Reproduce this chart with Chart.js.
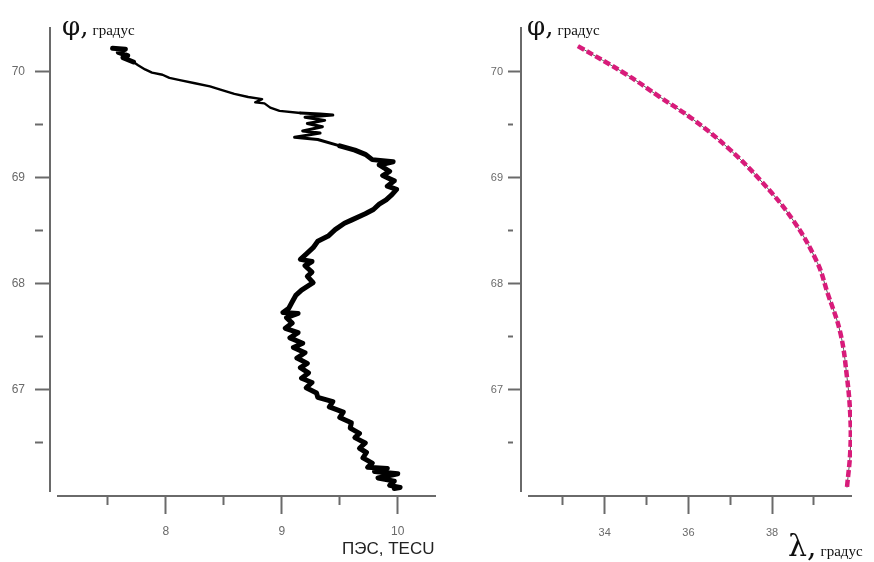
<!DOCTYPE html>
<html>
<head>
<meta charset="utf-8">
<script src="https://cdn.jsdelivr.net/npm/chart.js@4.4.1/dist/chart.umd.min.js"></script>
<style>
  html, body { margin: 0; padding: 0; background: #fff; }
  #wrap { position: relative; width: 874px; height: 562px; overflow: hidden; }
  canvas { position: absolute; top: 0; }
  #left { left: 0; }
  #right { left: 440px; }
  .lbl { position: absolute; white-space: nowrap; color: #111; }
  .big { font-family: "DejaVu Serif", "Liberation Serif", serif; }
  .unit { font-family: "Liberation Serif", serif; font-size: 15px; }
</style>
</head>
<body>
<div id="wrap">
  <canvas id="left" width="440" height="562"></canvas>
  <canvas id="right" width="434" height="562"></canvas>
  <div class="lbl" style="left:62px;top:11px;"><span class="big" style="font-size:26px;">φ,</span> <span class="unit">градус</span></div>
  <div class="lbl" style="left:527px;top:11px;"><span class="big" style="font-size:26px;">φ,</span> <span class="unit">градус</span></div>
  <div class="lbl" style="left:342px;top:539px;font-family:'Liberation Sans',Arial,sans-serif;font-size:17px;color:#222;">ПЭС, TECU</div>
  <div class="lbl" style="left:788px;top:528px;"><span class="big" style="font-size:30px;">λ,</span> <span class="unit">градус</span></div>
</div>
<script>
// left panel: ПЭС vs latitude (zigzag follows the noisy band)
const pesValues = [7.54,7.65,7.59,7.67,7.63,7.72,7.76,7.82,7.88,7.97,8.03,8.12,8.25,8.38,8.47,8.59,8.71,8.83,8.77,8.85,
  8.90,8.98,9.16,9.33,9.44,9.20,9.37,9.22,9.35,9.18,9.33,9.11,9.31,9.50,9.63,9.72,9.78,9.96,9.84,9.93,
  9.87,9.97,9.91,9.99,9.95,9.90,9.84,9.79,9.72,9.60,9.54,9.46,9.40,9.31,9.27,9.21,9.16,9.26,9.20,9.26,
  9.22,9.27,9.17,9.12,9.09,9.06,9.01,9.14,9.04,9.09,9.03,9.14,9.07,9.18,9.10,9.20,9.13,9.22,9.16,9.23,
  9.17,9.26,9.21,9.30,9.31,9.44,9.41,9.53,9.50,9.60,9.59,9.67,9.63,9.72,9.67,9.73,9.70,9.78,9.74,9.91,
  9.80,10.00,9.83,9.97,9.93,10.02,9.97];
const latValues = [70.22,70.21,70.18,70.15,70.13,70.09,70.06,70.02,69.99,69.97,69.94,69.92,69.89,69.86,69.83,69.79,69.76,69.74,69.71,69.70,
  69.66,69.63,69.61,69.60,69.59,69.57,69.54,69.51,69.48,69.44,69.42,69.38,69.36,69.30,69.26,69.22,69.17,69.15,69.12,69.06,
  69.02,68.97,68.92,68.89,68.84,68.79,68.75,68.70,68.66,68.60,68.57,68.51,68.45,68.40,68.34,68.28,68.23,68.21,68.17,68.11,
  68.07,68.01,67.94,67.89,67.83,67.77,67.73,67.72,67.68,67.63,67.58,67.54,67.49,67.44,67.40,67.35,67.30,67.25,67.21,67.16,
  67.11,67.07,67.02,66.97,66.93,66.89,66.84,66.79,66.74,66.69,66.64,66.59,66.55,66.50,66.45,66.41,66.36,66.31,66.27,66.26,
  66.23,66.21,66.17,66.14,66.10,66.08,66.07];

// right panel: track longitude vs latitude
const lonTrack = [33.36,34.53,35.32,36.11,36.92,37.71,38.50,39.08,39.32,39.63,39.79,39.87,39.87,39.79];
const latTrack = [70.24,69.97,69.76,69.55,69.29,68.98,68.60,68.20,67.92,67.54,67.12,66.75,66.43,66.08];

const latTicks = [66.5,67,67.5,68,68.5,69,69.5,70];
const pesTicks = [7.5,8,8.5,9,9.5,10];
const lonTicks = [33,34,35,36,37,38,39];

const axisColor = "#6a6a6a";

const spines = {
  id: "spines",
  afterDraw(chart, args, opts){
    const {ctx, chartArea: a} = chart;
    ctx.save();
    ctx.strokeStyle = axisColor;
    ctx.lineWidth = 2;
    ctx.beginPath();
    ctx.moveTo(a.left, a.top);
    ctx.lineTo(a.left, a.bottom - 4);
    ctx.moveTo(a.left + opts.gap, a.bottom);
    ctx.lineTo(a.right, a.bottom);
    ctx.stroke();
    ctx.restore();
  }
};

const isWhole = v => Math.abs(v - Math.round(v)) < 1e-6;
const isEven = v => isWhole(v) && Math.round(v) % 2 === 0;

function makeScales(xr, xt, xMajor, yLen, yPad, yWidth, xPad, fontFam, fontSize){
  return {
    x:{
      type:"linear", min:xr[0], max:xr[1],
      afterBuildTicks: s => { s.ticks = xt.map(v => ({value:v})); },
      afterFit: s => { s.height = 66; },
      border:{display:false},
      grid:{
        drawOnChartArea:false, drawTicks:true, tickLength:18,
        tickColor:axisColor, tickWidth:2,
        tickBorderDash: c => (c.tick && xMajor(c.tick.value)) ? [] : [9, 40]
      },
      ticks:{
        autoSkip:false, maxRotation:0, padding:xPad,
        color:"#6a6a6a", font:{family:fontFam, size:fontSize},
        callback: v => xMajor(v) ? String(Math.round(v)) : ""
      }
    },
    y:{
      type:"linear", min:66.0, max:70.42,
      afterBuildTicks: s => { s.ticks = latTicks.map(v => ({value:v})); },
      afterFit: s => { s.width = yWidth; },
      border:{display:false},
      grid:{
        drawOnChartArea:false, drawTicks:true, tickLength:yLen,
        tickColor:axisColor, tickWidth:2,
        tickBorderDash: c => (c.tick && isWhole(c.tick.value)) ? [] : [yLen > 14 ? 8 : 5, 40]
      },
      ticks:{
        autoSkip:false, padding:yPad,
        color:"#6a6a6a", font:{family:fontFam, size:fontSize},
        callback: v => isWhole(v) ? String(Math.round(v)) : ""
      }
    }
  };
}

// band thickness along the trace: thin in the steep upper stretch, thick where it is noisy
function bandWidth(lat){
  if (lat > 69.62 && lat < 70.12) return 2.4;
  if (lat > 69.35 && lat <= 69.62) return 3;
  return 5;
}

new Chart(document.getElementById("left"), {
  type:"line",
  data:{
    datasets:[{
      data: pesValues.map((p, i) => ({x:p, y:latValues[i]})),
      borderColor:"#000",
      borderWidth:4,
      borderJoinStyle:"round",
      borderCapStyle:"round",
      segment:{ borderWidth: c => bandWidth(latValues[c.p0DataIndex]) },
      pointRadius:0,
      tension:0,
      fill:false
    }]
  },
  options:{
    responsive:false, animation:false,
    layout:{padding:{top:27, right:4, left:0, bottom:0}},
    plugins:{legend:{display:false}, tooltip:{enabled:false}, spines:{gap:7}},
    scales: makeScales([7.0, 10.33], pesTicks, isWhole, 15, 10, 50, 10, "'Liberation Sans', Arial, sans-serif", 12)
  },
  plugins:[spines]
});

new Chart(document.getElementById("right"), {
  type:"line",
  data:{
    datasets:[{
      data: lonTrack.map((l, i) => ({x:l, y:latTrack[i]})),
      borderColor:"#d81b7a",
      borderWidth:4.5,
      borderDash:[7,3],
      borderCapStyle:"butt",
      pointRadius:0,
      tension:0.4,
      fill:false
    },{
      data: lonTrack.map((l, i) => ({x:l, y:latTrack[i]})),
      borderColor:"#5a5a5a",
      borderWidth:1,
      pointRadius:0,
      tension:0.4,
      fill:false
    }]
  },
  options:{
    responsive:false, animation:false,
    layout:{padding:{top:27, right:22, left:0, bottom:0}},
    plugins:{legend:{display:false}, tooltip:{enabled:false}, spines:{gap:7}},
    scales: makeScales([32.0, 39.91], lonTicks, isEven, 13, 5, 81, 12, "'Liberation Sans Narrow', 'Liberation Sans', Arial, sans-serif", 11)
  },
  plugins:[spines]
});
</script>
</body>
</html>
